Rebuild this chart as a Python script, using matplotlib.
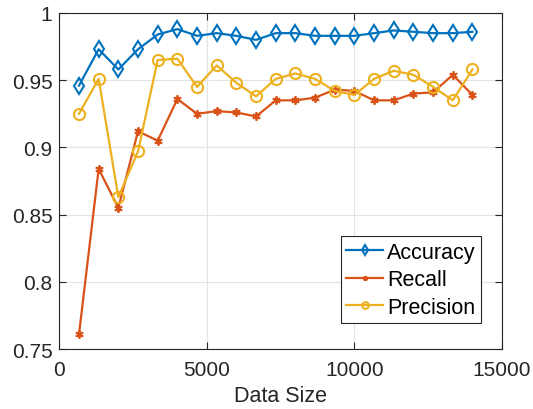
import matplotlib
matplotlib.use("Agg")
import matplotlib.pyplot as plt
import numpy as np

data_size = [667, 1333, 2000, 2667, 3333, 4000, 4667, 5333, 6000, 6667, 7333,
             8000, 8667, 9333, 10000, 10667, 11333, 12000, 12667, 13333, 14000]
accuracy = [0.946, 0.973, 0.958, 0.973, 0.984, 0.988, 0.983, 0.985, 0.983, 0.980, 0.985,
            0.985, 0.983, 0.983, 0.983, 0.985, 0.987, 0.986, 0.985, 0.985, 0.986]
recall = [0.761, 0.884, 0.855, 0.912, 0.905, 0.936, 0.925, 0.927, 0.926, 0.923, 0.935,
          0.935, 0.937, 0.943, 0.942, 0.935, 0.935, 0.940, 0.941, 0.954, 0.939]
precision = [0.925, 0.951, 0.863, 0.897, 0.965, 0.966, 0.945, 0.961, 0.948, 0.938, 0.951,
             0.955, 0.951, 0.942, 0.939, 0.951, 0.957, 0.954, 0.945, 0.935, 0.958]

plt.rcParams['font.family'] = ['Liberation Sans', 'DejaVu Sans']

fig = plt.figure(figsize=(5.33, 4.10), dpi=100)
ax = fig.add_axes([0.1113, 0.1463, 0.8305, 0.8196])

ax.plot(data_size, accuracy, color='#0072BD', marker='d', markersize=8, lw=1.6,
        mfc='none', mew=1.5, label='Accuracy')
ax.plot(data_size, recall, color='#D95319', marker=(6, 2, 0), markersize=6, lw=1.6,
        mew=1.3, label='Recall')
ax.plot(data_size, precision, color='#EDB120', marker='o', markersize=8, lw=1.6,
        mfc='none', mew=1.5, label='Precision')

ax.set_xlim(0, 15000)
ax.set_ylim(0.75, 1.0)
ax.set_xticks([0, 5000, 10000, 15000])
ax.set_yticks([0.75, 0.8, 0.85, 0.9, 0.95, 1.0])
ax.set_yticklabels(['0.75', '0.8', '0.85', '0.9', '0.95', '1'])
ax.grid(True, color='#e3e3e3', lw=0.8)
ax.set_axisbelow(True)
ax.tick_params(direction='in', labelsize=15, colors='#262626', length=5, width=0.8,
               top=True, right=True)
ax.tick_params(axis='x', pad=8)
ax.tick_params(axis='y', pad=5)
for s in ax.spines.values():
    s.set_color('#262626')
    s.set_linewidth(0.8)
ax.set_xlabel('Data Size', fontsize=15.5, color='#262626', labelpad=4)

leg = ax.legend(loc='lower right', bbox_to_anchor=(0.9526, 0.0774), fontsize=15.5,
                frameon=True, fancybox=False, edgecolor='#262626', framealpha=1,
                borderpad=0.25, labelspacing=0.3, handlelength=1.7, handletextpad=0.2,
                borderaxespad=0, markerscale=0.6)
leg.get_frame().set_linewidth(0.8)

fig.savefig('out.png', dpi=100)
